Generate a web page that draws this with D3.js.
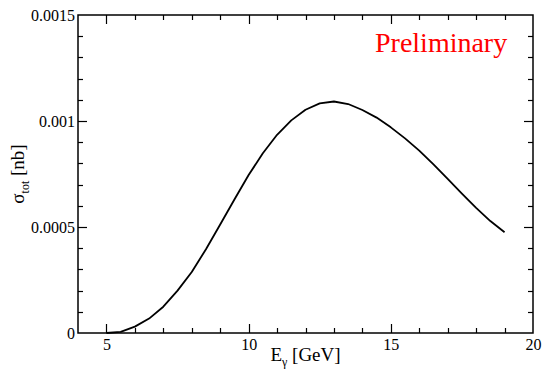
<!DOCTYPE html>
<html>
<head>
<meta charset="utf-8">
<script src="https://cdn.jsdelivr.net/npm/d3@7"></script>
<style>
  body { margin: 0; background: #fff; }
  svg text { font-family: "Liberation Serif", "DejaVu Serif", serif; }
</style>
</head>
<body>
<div id="chart"></div>
<script>
  // photon energy [GeV] and total cross section [nb]
  var energy = [5, 5.5, 6, 6.5, 7, 7.5, 8, 8.5, 9, 9.5, 10, 10.5, 11, 11.5,
                12, 12.5, 13, 13.5, 14, 14.5, 15, 15.5, 16, 16.5, 17, 17.5,
                18, 18.5, 19];
  var sigma = [0, 0.000005, 0.00003, 0.000068, 0.000124, 0.0002, 0.000288,
               0.000395, 0.000512, 0.00063, 0.000745, 0.000848, 0.000935,
               0.001003, 0.001053, 0.001083, 0.001092, 0.00108, 0.001052,
               0.001016, 0.00097, 0.000918, 0.00086, 0.000795, 0.000727,
               0.000658, 0.00059, 0.000528, 0.000475];
  var xTicks = [5, 10, 15, 20];
  var yTicks = [0, 0.0005, 0.001, 0.0015];
  var yTickLabels = ['0', '0.0005', '0.001', '0.0015'];

  var width = 545, height = 383;
  var margin = {left: 78, right: 12, top: 15, bottom: 50};

  var svg = d3.select('#chart').append('svg')
    .attr('width', width)
    .attr('height', height);

  var x = d3.scaleLinear().domain([4, 20])
    .range([margin.left, width - margin.right]);
  var y = d3.scaleLinear().domain([0, 0.0015])
    .range([height - margin.bottom, margin.top]);

  var minorX = d3.range(5, 20, 1);
  var minorY = d3.range(1, 15).map(function(i) { return i * 0.0001; });

  var yBot = height - margin.bottom;
  var yTop = margin.top;
  var xL = margin.left;
  var xR = width - margin.right;

  // frame
  svg.append('rect')
    .attr('x', xL)
    .attr('y', yTop)
    .attr('width', xR - xL)
    .attr('height', yBot - yTop)
    .attr('fill', 'none')
    .attr('stroke', '#000')
    .attr('stroke-width', 1.5);

  // tick labels from d3 axes (tick lines drawn separately below)
  function labelAxis(g) {
    g.select('.domain').remove();
    g.selectAll('.tick line').remove();
    g.selectAll('.tick text')
      .attr('fill', '#000')
      .style('font-size', '16px')
      .style('font-family', '"Liberation Serif", serif');
  }
  svg.append('g').attr('transform', 'translate(0,' + yBot + ')')
    .call(d3.axisBottom(x).tickValues(xTicks).tickSize(0).tickPadding(6)
      .tickFormat(d3.format('d')))
    .call(labelAxis);
  svg.append('g').attr('transform', 'translate(' + xL + ',0)')
    .call(d3.axisLeft(y).tickValues(yTicks).tickSize(0).tickPadding(3)
      .tickFormat(function(d, i) { return yTickLabels[i]; }))
    .call(labelAxis);

  var line = d3.line()
    .x(function(d, i) { return x(energy[i]); })
    .y(function(d) { return y(d); });

  svg.append('path')
    .datum(sigma)
    .attr('d', line)
    .attr('fill', 'none')
    .attr('stroke', '#000')
    .attr('stroke-width', 1.8)
    .attr('stroke-linejoin', 'round');

  // inward ticks on all four sides
  var ticks = svg.append('g')
    .attr('stroke', '#000')
    .attr('stroke-width', 1.2);

  function xTickMarks(vals, len) {
    [[yBot, -1], [yTop, 1]].forEach(function(side) {
      ticks.selectAll(null)
        .data(vals)
        .enter().append('line')
        .attr('x1', function(d) { return Math.round(x(d)) + 0.5; })
        .attr('x2', function(d) { return Math.round(x(d)) + 0.5; })
        .attr('y1', side[0])
        .attr('y2', side[0] + side[1] * len);
    });
  }
  function yTickMarks(vals, len) {
    [[xL, 1], [xR, -1]].forEach(function(side) {
      ticks.selectAll(null)
        .data(vals)
        .enter().append('line')
        .attr('y1', function(d) { return Math.round(y(d)) + 0.5; })
        .attr('y2', function(d) { return Math.round(y(d)) + 0.5; })
        .attr('x1', side[0])
        .attr('x2', side[0] + side[1] * len);
    });
  }
  xTickMarks(minorX.filter(function(d) { return d % 5 !== 0; }), 5);
  xTickMarks(xTicks.filter(function(d) { return d < 20; }), 9);
  yTickMarks(minorY.filter(function(d, i) { return (i + 1) % 5 !== 0; }), 5);
  yTickMarks(yTicks.filter(function(d) { return d > 0 && d < 0.0015; }), 9);

  // axis titles
  var xt = svg.append('text')
    .attr('x', (xL + xR) / 2)
    .attr('y', 361)
    .attr('text-anchor', 'middle')
    .style('font-size', '19px');
  xt.append('tspan').text('E');
  xt.append('tspan').attr('dy', 5).style('font-size', '12px').text('\u03b3');
  xt.append('tspan').attr('dy', -5).text(' [GeV]');

  var yt = svg.append('text')
    .attr('transform', 'translate(24,' + ((yTop + yBot) / 2) + ') rotate(-90)')
    .attr('text-anchor', 'middle')
    .style('font-size', '19px');
  yt.append('tspan').text('\u03c3');
  yt.append('tspan').attr('dy', 5).style('font-size', '12px').text('tot');
  yt.append('tspan').attr('dy', -5).text(' [nb]');

  svg.append('text')
    .attr('x', 375)
    .attr('y', 52)
    .attr('fill', '#ff0000')
    .style('font-size', '28px')
    .text('Preliminary');
</script>
</body>
</html>
